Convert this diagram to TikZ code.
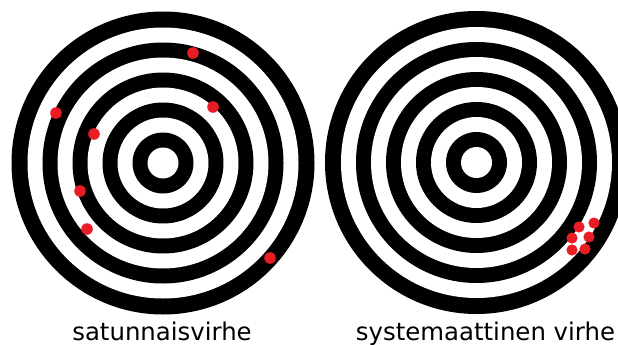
\documentclass[tikz,border=0pt]{standalone}
\usepackage{fontspec}
\setmainfont{DejaVu Sans}
\definecolor{hitred}{RGB}{234,28,36}
\tikzset{
  hit/.style={fill=hitred,draw=none},
  lbl/.style={inner sep=0pt,anchor=base,font=\fontsize{24.4}{28}\selectfont}
}
\newcommand{\mytarget}[1]{%
  \fill[black] (#1) circle (151.5);
  \fill[white] (#1) circle (135.5);
  \fill[black] (#1) circle (120.5);
  \fill[white] (#1) circle (105.5);
  \fill[black] (#1) circle (90.5);
  \fill[white] (#1) circle (75.5);
  \fill[black] (#1) circle (60.5);
  \fill[white] (#1) circle (45.5);
  \fill[black] (#1) circle (30.5);
  \fill[white] (#1) circle (15.5);
}
\begin{document}
\begin{tikzpicture}[x=1pt,y=-1pt]
\useasboundingbox (0,0) rectangle (618,345);
\clip (0,0) rectangle (618,345);
\fill[white] (0,0) rectangle (618,345);
\coordinate (cl) at (163,163);
\coordinate (cr) at (476.5,162.5);
\mytarget{cl}
\mytarget{cr}
% random error hits
\foreach \p in {(193,53),(213,107),(56,113),(94,134),(80,191),(87,229),(270,258)}
  \fill[hit] \p circle (5.8);
% systematic error hits
\foreach \p in {(579,227),(594,223),(572,238),(589,237),(572,250),(585,249)}
  \fill[hit] \p circle (5.6);
\node[lbl] (tl) at (162,340.5) {satunnaisvirhe};
\node[lbl] (tr) at (485.5,340.5) {systemaattinen virhe};
\end{tikzpicture}
\end{document}
